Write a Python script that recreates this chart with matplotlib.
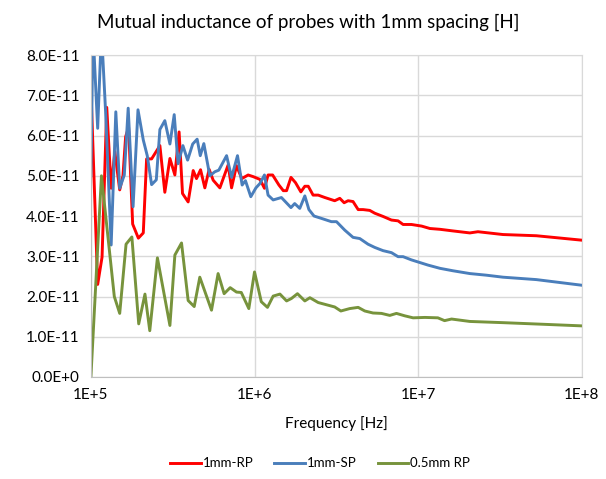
import math
import matplotlib
matplotlib.use("Agg")
import matplotlib.pyplot as plt
from matplotlib.ticker import FixedLocator, FuncFormatter, NullLocator

plt.rcParams['font.family'] = ['Lato', 'DejaVu Sans']

# values in units of 1E-11 H
red_freq = [1.00e5, 1.10e5, 1.17e5, 1.25e5, 1.33e5, 1.40e5, 1.50e5, 1.57e5, 1.63e5, 1.70e5,
            1.80e5, 1.95e5, 2.09e5, 2.19e5, 2.35e5, 2.64e5, 2.83e5, 3.04e5, 3.26e5, 3.46e5,
            3.63e5, 3.93e5, 4.22e5, 4.42e5, 4.68e5, 4.97e5, 5.28e5, 5.59e5, 6.14e5, 6.90e5,
            7.24e5, 7.76e5, 8.36e5, 9.14e5, 9.80e5, 1.08e6, 1.15e6, 1.21e6, 1.29e6, 1.41e6,
            1.50e6, 1.57e6, 1.67e6, 1.78e6, 1.92e6, 2.03e6, 2.13e6, 2.28e6, 2.45e6, 2.69e6,
            3.09e6, 3.32e6, 3.53e6, 3.73e6, 4.00e6, 4.30e6, 4.61e6, 5.06e6, 5.43e6, 6.10e6,
            6.87e6, 7.54e6, 8.09e6, 9.10e6, 1.05e7, 1.18e7, 1.36e7, 1.63e7, 2.07e7, 2.32e7,
            3.30e7, 5.28e7, 1.00e8]
red_val = [7.2, 2.3, 2.98, 6.7, 4.69, 5.6, 4.65, 5.0, 5.97, 6.2,
           3.8, 3.45, 3.58, 5.42, 5.42, 5.75, 4.59, 5.43, 5.02, 6.09,
           4.56, 4.35, 5.13, 4.93, 5.15, 4.7, 5.16, 4.89, 4.7, 5.27,
           4.7, 5.25, 4.93, 5.02, 4.98, 4.91, 4.69, 5.02, 5.02, 4.77,
           4.63, 4.63, 4.96, 4.83, 4.60, 4.74, 4.74, 4.52, 4.52, 4.46,
           4.38, 4.44, 4.33, 4.38, 4.36, 4.16, 4.16, 4.14, 4.07, 3.99,
           3.90, 3.88, 3.79, 3.79, 3.75, 3.69, 3.67, 3.63, 3.58, 3.61,
           3.54, 3.51, 3.40]

blue_freq = [1.00e5, 1.03e5, 1.10e5, 1.16e5, 1.23e5, 1.33e5, 1.42e5, 1.50e5, 1.60e5, 1.69e5,
             1.81e5, 1.94e5, 2.09e5, 2.21e5, 2.35e5, 2.51e5, 2.64e5, 2.83e5, 3.04e5, 3.23e5,
             3.41e5, 3.65e5, 3.90e5, 4.19e5, 4.46e5, 4.66e5, 4.90e5, 5.33e5, 5.72e5, 6.05e5,
             6.75e5, 7.24e5, 7.87e5, 8.40e5, 8.80e5, 9.49e5, 1.02e6, 1.08e6, 1.15e6, 1.21e6,
             1.30e6, 1.46e6, 1.67e6, 1.76e6, 1.89e6, 2.03e6, 2.15e6, 2.31e6, 2.57e6, 2.95e6,
             3.17e6, 3.56e6, 4.00e6, 4.40e6, 4.94e6, 5.43e6, 6.10e6, 6.87e6, 7.54e6, 8.09e6,
             9.10e6, 1.07e7, 1.15e7, 1.36e7, 1.63e7, 2.07e7, 2.61e7, 3.30e7, 5.28e7, 1.00e8]
blue_val = [5.0, 8.6, 6.18, 8.6, 6.59, 3.28, 6.59, 4.69, 5.02, 6.68,
            4.23, 6.64, 5.89, 5.5, 4.78, 4.90, 6.15, 6.37, 5.79, 6.52,
            5.3, 5.75, 5.39, 5.79, 5.91, 5.5, 5.8, 5.0, 5.10, 5.14,
            5.5, 4.96, 5.5, 4.77, 4.88, 4.48, 4.7, 4.81, 5.02, 4.52,
            4.40, 4.46, 4.21, 4.31, 4.19, 4.50, 4.16, 4.00, 3.94, 3.86,
            3.86, 3.65, 3.47, 3.44, 3.30, 3.22, 3.14, 3.09, 2.99, 2.99,
            2.91, 2.82, 2.78, 2.70, 2.64, 2.57, 2.53, 2.48, 2.42, 2.28]

green_freq = [1.00e5, 1.16e5, 1.39e5, 1.50e5, 1.64e5, 1.78e5, 1.96e5, 2.14e5, 2.29e5, 2.55e5,
              3.04e5, 3.26e5, 3.58e5, 3.93e5, 4.28e5, 4.63e5, 5.46e5, 5.99e5, 6.52e5, 7.10e5,
              7.76e5, 8.30e5, 9.23e5, 1.00e6, 1.10e6, 1.20e6, 1.30e6, 1.43e6, 1.57e6, 1.68e6,
              1.83e6, 2.03e6, 2.18e6, 2.45e6, 3.09e6, 3.37e6, 3.82e6, 4.30e6, 4.72e6, 5.30e6,
              5.97e6, 6.71e6, 7.37e6, 8.28e6, 9.31e6, 1.10e7, 1.32e7, 1.45e7, 1.60e7, 2.07e7,
              3.30e7, 5.79e7, 1.00e8]
green_val = [0.0, 5.0, 2.0, 1.58, 3.3, 3.48, 1.32, 2.06, 1.15, 2.96,
             1.28, 3.03, 3.33, 1.9, 1.75, 2.48, 1.66, 2.57, 2.07, 2.22,
             2.11, 2.10, 1.70, 2.61, 1.87, 1.73, 2.01, 2.06, 1.89, 1.95,
             2.07, 1.89, 1.97, 1.85, 1.74, 1.64, 1.70, 1.73, 1.64, 1.59,
             1.58, 1.53, 1.58, 1.52, 1.47, 1.48, 1.47, 1.40, 1.44, 1.38,
             1.35, 1.31, 1.27]

y_ticks = [0, 1, 2, 3, 4, 5, 6, 7, 8]
x_ticks = [1e5, 1e6, 1e7, 1e8]

fig = plt.figure(figsize=(6.06, 4.79), dpi=100)
ax = fig.add_axes([0.150, 0.213, 0.810, 0.672])

ax.plot(red_freq, [v * 1e-11 for v in red_val], color='#FF0000', lw=2.1, label='1mm-RP')
ax.plot(blue_freq, [v * 1e-11 for v in blue_val], color='#4A7EBB', lw=2.1, label='1mm-SP')
ax.plot(green_freq, [v * 1e-11 for v in green_val], color='#77933C', lw=2.1, label='0.5mm RP')

ax.set_xscale('log')
ax.set_xlim(1e5, 1e8)
ax.set_ylim(0, 8e-11)
ax.xaxis.set_major_locator(FixedLocator(x_ticks))
ax.xaxis.set_minor_locator(NullLocator())
ax.xaxis.set_major_formatter(FuncFormatter(lambda x, p: "1E+%d" % round(math.log10(x))))
ax.yaxis.set_major_locator(FixedLocator([t * 1e-11 for t in y_ticks]))
ax.yaxis.set_major_formatter(FuncFormatter(lambda y, p: "0.0E+0" if y == 0 else "%.1fE-11" % (y / 1e-11)))

ax.grid(True, color='#D9D9D9', lw=1.0)
ax.set_axisbelow(True)
for s in ['top', 'right']:
    ax.spines[s].set_color('#D9D9D9')
for s in ['left', 'bottom']:
    ax.spines[s].set_color('#BFBFBF')
ax.tick_params(length=0, labelsize=11, colors='#000000', pad=8)

ax.set_xlabel('Frequency [Hz]', fontsize=11, labelpad=10)
fig.text(0.508, 0.953, 'Mutual inductance of probes with 1mm spacing [H]', ha='center', va='center', fontsize=13.5)

fig.legend(loc='center', bbox_to_anchor=(0.528, 0.033), ncol=3, frameon=False,
           fontsize=9.5, handlelength=2.3, columnspacing=1.6, handletextpad=0.15)

fig.savefig('out.png', dpi=100)
